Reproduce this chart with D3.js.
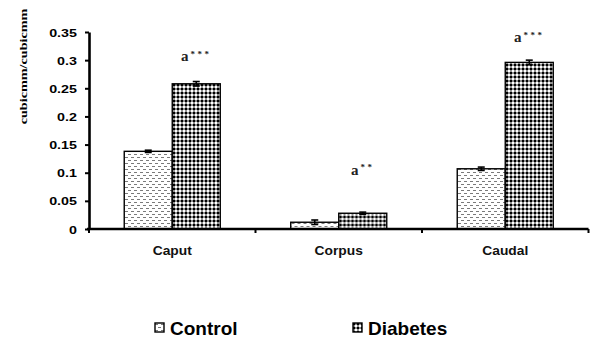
<!DOCTYPE html>
<html>
<head>
<meta charset="utf-8">
<script src="https://cdn.jsdelivr.net/npm/d3@7"></script>
<style>
  html, body { margin: 0; padding: 0; background: #fff; }
  svg { display: block; }
</style>
</head>
<body>
<svg id="chart" width="591" height="340"></svg>
<script>
// Epididymal regions and the two groups compared
const regions = ["Caput", "Corpus", "Caudal"];
const groups = ["Control", "Diabetes"];

// Mean values (cubicmm/cubicmm) and their error margins
const controlValues = [0.138, 0.012, 0.107];
const diabetesValues = [0.258, 0.028, 0.296];
const controlErrors = [0.002, 0.004, 0.003];
const diabetesErrors = [0.004, 0.002, 0.004];

// Significance markers over the diabetes bars, and the level they sit at
const sigLabels = ["***", "**", "***"];
const sigAt = [0.298, 0.096, 0.332];

const yTicks = [0, 0.05, 0.1, 0.15, 0.2, 0.25, 0.3, 0.35];
const yTickLabels = ["0", "0.05", "0.1", "0.15", "0.2", "0.25", "0.3", "0.35"];
const yTitle = "cubicmm/cubicmm";

const svg = d3.select("#chart");
const defs = svg.append("defs");

// Fill for the control bars: staggered grey dashes
const pc = defs.append("pattern").attr("id", "pat-control")
  .attr("patternUnits", "userSpaceOnUse").attr("width", 6).attr("height", 6);
pc.append("rect").attr("width", 6).attr("height", 6).attr("fill", "#fff");
pc.append("rect").attr("x", 0).attr("y", 1).attr("width", 3).attr("height", 1).attr("fill", "#7a7a7a");
pc.append("rect").attr("x", 3).attr("y", 4).attr("width", 3).attr("height", 1).attr("fill", "#7a7a7a");

// Fill for the diabetes bars: dotted black grid
const pd = defs.append("pattern").attr("id", "pat-diabetes")
  .attr("patternUnits", "userSpaceOnUse").attr("width", 4).attr("height", 4);
pd.append("rect").attr("width", 4).attr("height", 4).attr("fill", "#fff");
pd.append("rect").attr("x", 0).attr("y", 0).attr("width", 2).attr("height", 2).attr("fill", "#000");
pd.append("rect").attr("x", 2).attr("y", 0.5).attr("width", 2).attr("height", 1).attr("fill", "#222");
pd.append("rect").attr("x", 0.5).attr("y", 2).attr("width", 1).attr("height", 2).attr("fill", "#222");

const fills = { Control: "url(#pat-control)", Diabetes: "url(#pat-diabetes)" };

const plot = { left: 89, right: 588.5, top: 32, bottom: 229 };

const x0 = d3.scaleBand().domain(regions).range([plot.left, plot.right]).padding(0);
const x1 = d3.scaleBand().domain(groups).range([0, x0.bandwidth()])
  .paddingInner(0).paddingOuter(0.734);
const y = d3.scaleLinear().domain([0, 0.35]).range([plot.bottom, plot.top]);

const rows = regions.map((r, i) => ({
  region: r,
  items: [
    { group: "Control", value: controlValues[i], err: controlErrors[i] },
    { group: "Diabetes", value: diabetesValues[i], err: diabetesErrors[i] }
  ]
}));

// Bars
const g = svg.append("g");
const groupSel = g.selectAll("g.region").data(rows).join("g")
  .attr("class", "region")
  .attr("transform", d => `translate(${x0(d.region)},0)`);

groupSel.selectAll("rect.bar").data(d => d.items).join("rect")
  .attr("class", "bar")
  .attr("x", d => x1(d.group))
  .attr("y", d => y(d.value))
  .attr("width", x1.bandwidth())
  .attr("height", d => y(0) - y(d.value))
  .attr("fill", d => fills[d.group])
  .attr("stroke", "#000")
  .attr("stroke-width", 1.4);

// Error bars
const eb = groupSel.selectAll("g.err").data(d => d.items).join("g").attr("class", "err");
eb.append("line")
  .attr("x1", d => x1(d.group) + x1.bandwidth() / 2)
  .attr("x2", d => x1(d.group) + x1.bandwidth() / 2)
  .attr("y1", d => y(d.value + d.err))
  .attr("y2", d => y(d.value - d.err))
  .attr("stroke", "#000").attr("stroke-width", 1.6);
eb.selectAll("line.cap").data(d => [d.value + d.err, d.value - d.err].map(v => ({ v, d }))).join("line")
  .attr("class", "cap")
  .attr("x1", e => x1(e.d.group) + x1.bandwidth() / 2 - 3.5)
  .attr("x2", e => x1(e.d.group) + x1.bandwidth() / 2 + 3.5)
  .attr("y1", e => y(e.v)).attr("y2", e => y(e.v))
  .attr("stroke", "#000").attr("stroke-width", 1.6);

// Y axis
const yAxis = d3.axisLeft(y).tickValues(yTicks)
  .tickFormat((d, i) => yTickLabels[i]).tickSize(4).tickSizeOuter(0);
const ya = svg.append("g").attr("transform", `translate(${plot.left},0)`).call(yAxis);
ya.select(".domain").attr("stroke", "#000").attr("stroke-width", 2.6);
ya.selectAll(".tick line").attr("stroke", "#000").attr("stroke-width", 2);
ya.selectAll(".tick text").each(function () {
  const t = d3.select(this);
  const ty = +t.attr("y") || 0;
  t.attr("x", null).attr("dy", null).attr("y", null)
    .attr("transform", `translate(-12,${ty + 4}) scale(1.3,1)`)
    .attr("text-anchor", "end")
    .attr("font-family", "Liberation Sans, Arial, sans-serif")
    .attr("font-weight", "bold").attr("font-size", 11).attr("fill", "#000");
});

// X axis with ticks at region boundaries
const boundaries = regions.map(r => x0(r)).concat([plot.right]);
svg.append("line")
  .attr("x1", plot.left - 2).attr("x2", plot.right)
  .attr("y1", y(0)).attr("y2", y(0))
  .attr("stroke", "#000").attr("stroke-width", 2.6);
svg.selectAll("line.xtick").data(boundaries).join("line")
  .attr("class", "xtick")
  .attr("x1", d => d).attr("x2", d => d)
  .attr("y1", y(0)).attr("y2", y(0) + 4)
  .attr("stroke", "#000").attr("stroke-width", 2);

svg.selectAll("text.cat").data(regions).join("text")
  .attr("class", "cat")
  .attr("transform", d => `translate(${x0(d) + x0.bandwidth() / 2},${y(0) + 26}) scale(1.15,1)`)
  .attr("text-anchor", "middle")
  .attr("font-family", "Liberation Sans, Arial, sans-serif")
  .attr("font-weight", "bold").attr("font-size", 12).attr("fill", "#111")
  .text(d => d);

// Y title
svg.append("text")
  .attr("transform", `translate(27,${(plot.top + plot.bottom) / 2 - 64}) rotate(-90) scale(1.35,1)`)
  .attr("text-anchor", "middle")
  .attr("font-family", "Liberation Serif, Times New Roman, serif")
  .attr("font-weight", "bold").attr("font-size", 10.5).attr("fill", "#000")
  .text(yTitle);

// Significance markers
const sig = svg.selectAll("text.sig").data(regions).join("text")
  .attr("class", "sig")
  .attr("x", (d) => x0(d) + x1("Diabetes") + x1.bandwidth() / 2)
  .attr("y", (d, i) => y(sigAt[i]))
  .attr("text-anchor", "middle")
  .attr("font-family", "Liberation Serif, Times New Roman, serif")
  .attr("font-weight", "bold").attr("fill", "#222");
sig.append("tspan").attr("font-size", 15).text("a");
sig.append("tspan").attr("font-size", 9).attr("dy", -4.5).attr("letter-spacing", 2.5)
  .attr("dx", 2).text((d, i) => sigLabels[i]);

// Legend
const legendX = [155, 353];
const leg = svg.selectAll("g.legend").data(groups).join("g")
  .attr("class", "legend")
  .attr("transform", (d, i) => `translate(${legendX[i]},323)`);
leg.append("rect").attr("width", 9).attr("height", 9)
  .attr("fill", d => fills[d]).attr("stroke", "#000").attr("stroke-width", 1.4);
leg.append("text").attr("x", 15).attr("y", 12)
  .attr("font-family", "Liberation Sans, Arial, sans-serif")
  .attr("font-weight", "bold").attr("font-size", 19).attr("fill", "#000")
  .text(d => d);
</script>
</body>
</html>
